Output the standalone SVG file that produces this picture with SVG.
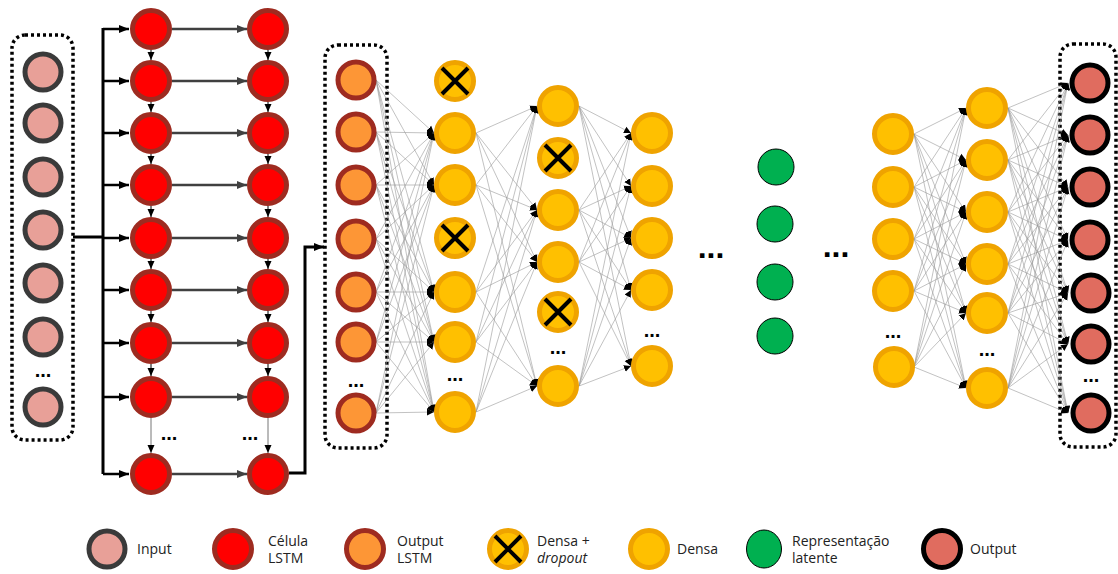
<svg xmlns="http://www.w3.org/2000/svg" width="1118" height="574" viewBox="0 0 1118 574">
<style>
.inp{fill:#E8A098;stroke:#3A3A3A;stroke-width:5}
.cell{fill:#FF0000;stroke:#9E2B20;stroke-width:5}
.olstm{fill:#FD9636;stroke:#9E2B20;stroke-width:5}
.den{fill:#FFC000;stroke:#EFA300;stroke-width:5}
.lat{fill:#00B050;stroke:#000;stroke-width:1}
.out{fill:#E06C5F;stroke:#000;stroke-width:5}
.x{stroke:#000;stroke-width:4;fill:none}
.box{fill:none;stroke:#000;stroke-width:3.5;stroke-dasharray:3 3}
.c path{stroke:#999;stroke-width:0.6;fill:none;marker-end:url(#as)}
.dots{font-family:"Liberation Sans",sans-serif;font-weight:bold;font-size:20px;text-anchor:middle;fill:#000}
.big{font-size:32px}
.lg{font-family:"Open Sans",sans-serif;font-size:14px;fill:#222}
</style>
<defs>
<marker id="ab" markerUnits="userSpaceOnUse" markerWidth="10" markerHeight="10" refX="10" refY="5" orient="auto"><path d="M0,1 L10,5 L0,9 z" fill="#000"/></marker>
<marker id="ag" markerUnits="userSpaceOnUse" markerWidth="10" markerHeight="10" refX="10" refY="5" orient="auto"><path d="M0,1 L10,5 L0,9 z" fill="#404040"/></marker>
<marker id="av" markerUnits="userSpaceOnUse" markerWidth="8" markerHeight="8" refX="8" refY="4" orient="auto"><path d="M0,0.5 L8,4 L0,7.5 z" fill="#000"/></marker>
<marker id="as" markerUnits="userSpaceOnUse" markerWidth="8" markerHeight="8" refX="7" refY="4" orient="auto"><path d="M0,0.5 L7,4 L0,7.5 z" fill="#000"/></marker>
</defs>

<!-- boxes -->
<rect class="box" x="12" y="35" width="61" height="405" rx="13"/>
<rect class="box" x="325" y="45" width="62" height="403" rx="13"/>
<rect class="box" x="1060" y="44" width="56" height="403" rx="13"/>

<!-- connectors -->
<g id="connectors">
<g fill="none">
<path d="M73 237H103" stroke="#000" stroke-width="3"/>
<path d="M103 28V474" stroke="#000" stroke-width="3"/>
<g stroke="#000" stroke-width="2.5" marker-end="url(#ab)">
<path d="M103 29H129"/><path d="M103 81H129"/><path d="M103 133H129"/><path d="M103 185H129"/><path d="M103 238H129"/><path d="M103 290H129"/><path d="M103 343H129"/><path d="M103 397H129"/><path d="M103 474H129"/>
</g>
<g stroke="#404040" stroke-width="2.5" marker-end="url(#ag)">
<path d="M172 29H247"/><path d="M172 81H247"/><path d="M172 133H247"/><path d="M172 185H247"/><path d="M172 238H247"/><path d="M172 290H247"/><path d="M172 343H247"/><path d="M172 397H247"/><path d="M172 474H247"/>
</g>
<g stroke="#000" stroke-width="1" marker-end="url(#av)">
<path d="M151 50V60"/><path d="M151 102V112"/><path d="M151 154V164"/><path d="M151 206V217"/><path d="M151 259V269"/><path d="M151 311V322"/><path d="M151 364V376"/>
<path d="M268 50V60"/><path d="M268 102V112"/><path d="M268 154V164"/><path d="M268 206V217"/><path d="M268 259V269"/><path d="M268 311V322"/><path d="M268 364V376"/>
</g>
<g stroke="#777" stroke-width="1" marker-end="url(#av)">
<path d="M151 418V453"/><path d="M268 418V453"/>
</g>
<path d="M289 473H305V247H324" stroke="#000" stroke-width="3" marker-end="url(#ab)"/>
</g>
<g class="c">
<path d="M376 80L434 133"/><path d="M376 80L434 185"/><path d="M376 80L434 292"/><path d="M376 80L434 342"/><path d="M376 80L434 412"/>
<path d="M376 132L434 133"/><path d="M376 132L434 185"/><path d="M376 132L434 292"/><path d="M376 132L434 342"/><path d="M376 132L434 412"/>
<path d="M376 185L434 133"/><path d="M376 185L434 185"/><path d="M376 185L434 292"/><path d="M376 185L434 342"/><path d="M376 185L434 412"/>
<path d="M376 239L434 133"/><path d="M376 239L434 185"/><path d="M376 239L434 292"/><path d="M376 239L434 342"/><path d="M376 239L434 412"/>
<path d="M376 292L434 133"/><path d="M376 292L434 185"/><path d="M376 292L434 292"/><path d="M376 292L434 342"/><path d="M376 292L434 412"/>
<path d="M376 342L434 133"/><path d="M376 342L434 185"/><path d="M376 342L434 292"/><path d="M376 342L434 342"/><path d="M376 342L434 412"/>
<path d="M376 413L434 133"/><path d="M376 413L434 185"/><path d="M376 413L434 292"/><path d="M376 413L434 342"/><path d="M376 413L434 412"/>

<path d="M476 133L537 106"/><path d="M476 133L537 210"/><path d="M476 133L537 262"/><path d="M476 133L537 386"/>
<path d="M476 185L537 106"/><path d="M476 185L537 210"/><path d="M476 185L537 262"/><path d="M476 185L537 386"/>
<path d="M476 292L537 106"/><path d="M476 292L537 210"/><path d="M476 292L537 262"/><path d="M476 292L537 386"/>
<path d="M476 342L537 106"/><path d="M476 342L537 210"/><path d="M476 342L537 262"/><path d="M476 342L537 386"/>
<path d="M476 412L537 106"/><path d="M476 412L537 210"/><path d="M476 412L537 262"/><path d="M476 412L537 386"/>

<path d="M579 106L631 133"/><path d="M579 106L631 186"/><path d="M579 106L631 238"/><path d="M579 106L631 290"/><path d="M579 106L631 366"/>
<path d="M579 210L631 133"/><path d="M579 210L631 186"/><path d="M579 210L631 238"/><path d="M579 210L631 290"/><path d="M579 210L631 366"/>
<path d="M579 262L631 133"/><path d="M579 262L631 186"/><path d="M579 262L631 238"/><path d="M579 262L631 290"/><path d="M579 262L631 366"/>
<path d="M579 386L631 133"/><path d="M579 386L631 186"/><path d="M579 386L631 238"/><path d="M579 386L631 290"/><path d="M579 386L631 366"/>

<path d="M914 134L966 108"/><path d="M914 134L966 160"/><path d="M914 134L966 212"/><path d="M914 134L966 264"/><path d="M914 134L966 313"/><path d="M914 134L966 388"/>
<path d="M914 187L966 108"/><path d="M914 187L966 160"/><path d="M914 187L966 212"/><path d="M914 187L966 264"/><path d="M914 187L966 313"/><path d="M914 187L966 388"/>
<path d="M914 239L966 108"/><path d="M914 239L966 160"/><path d="M914 239L966 212"/><path d="M914 239L966 264"/><path d="M914 239L966 313"/><path d="M914 239L966 388"/>
<path d="M914 291L966 108"/><path d="M914 291L966 160"/><path d="M914 291L966 212"/><path d="M914 291L966 264"/><path d="M914 291L966 313"/><path d="M914 291L966 388"/>
<path d="M914 367L966 108"/><path d="M914 367L966 160"/><path d="M914 367L966 212"/><path d="M914 367L966 264"/><path d="M914 367L966 313"/><path d="M914 367L966 388"/>

<path d="M1008 108L1068 83"/><path d="M1008 108L1068 135"/><path d="M1008 108L1068 187"/><path d="M1008 108L1068 240"/><path d="M1008 108L1068 293"/><path d="M1008 108L1068 344"/><path d="M1008 108L1068 413"/>
<path d="M1008 160L1068 83"/><path d="M1008 160L1068 135"/><path d="M1008 160L1068 187"/><path d="M1008 160L1068 240"/><path d="M1008 160L1068 293"/><path d="M1008 160L1068 344"/><path d="M1008 160L1068 413"/>
<path d="M1008 212L1068 83"/><path d="M1008 212L1068 135"/><path d="M1008 212L1068 187"/><path d="M1008 212L1068 240"/><path d="M1008 212L1068 293"/><path d="M1008 212L1068 344"/><path d="M1008 212L1068 413"/>
<path d="M1008 264L1068 83"/><path d="M1008 264L1068 135"/><path d="M1008 264L1068 187"/><path d="M1008 264L1068 240"/><path d="M1008 264L1068 293"/><path d="M1008 264L1068 344"/><path d="M1008 264L1068 413"/>
<path d="M1008 313L1068 83"/><path d="M1008 313L1068 135"/><path d="M1008 313L1068 187"/><path d="M1008 313L1068 240"/><path d="M1008 313L1068 293"/><path d="M1008 313L1068 344"/><path d="M1008 313L1068 413"/>
<path d="M1008 388L1068 83"/><path d="M1008 388L1068 135"/><path d="M1008 388L1068 187"/><path d="M1008 388L1068 240"/><path d="M1008 388L1068 293"/><path d="M1008 388L1068 344"/><path d="M1008 388L1068 413"/>
</g>
</g>

<!-- input column -->
<g id="input">
<circle class="inp" cx="43" cy="72" r="18"/><circle class="inp" cx="43" cy="123" r="18"/><circle class="inp" cx="43" cy="177" r="18"/><circle class="inp" cx="43" cy="230" r="18"/><circle class="inp" cx="43" cy="283" r="18"/><circle class="inp" cx="43" cy="337" r="18"/><circle class="inp" cx="43" cy="407" r="18"/>
<text class="dots" x="43" y="377">...</text>
</g>

<!-- LSTM cells -->
<g id="lstm1">
<circle class="cell" cx="151" cy="29" r="18.5"/><circle class="cell" cx="151" cy="81" r="18.5"/><circle class="cell" cx="151" cy="133" r="18.5"/><circle class="cell" cx="151" cy="185" r="18.5"/><circle class="cell" cx="151" cy="238" r="18.5"/><circle class="cell" cx="151" cy="290" r="18.5"/><circle class="cell" cx="151" cy="343" r="18.5"/><circle class="cell" cx="151" cy="397" r="18.5"/><circle class="cell" cx="151" cy="474" r="18.5"/>
<text class="dots" x="169" y="440">...</text>
</g>
<g id="lstm2">
<circle class="cell" cx="268" cy="29" r="18.5"/><circle class="cell" cx="268" cy="81" r="18.5"/><circle class="cell" cx="268" cy="133" r="18.5"/><circle class="cell" cx="268" cy="185" r="18.5"/><circle class="cell" cx="268" cy="238" r="18.5"/><circle class="cell" cx="268" cy="290" r="18.5"/><circle class="cell" cx="268" cy="343" r="18.5"/><circle class="cell" cx="268" cy="397" r="18.5"/><circle class="cell" cx="268" cy="474" r="18.5"/>
<text class="dots" x="250" y="440">...</text>
</g>

<!-- output LSTM -->
<g id="lstm-output">
<circle class="olstm" cx="356" cy="80" r="18"/><circle class="olstm" cx="356" cy="132" r="18"/><circle class="olstm" cx="356" cy="185" r="18"/><circle class="olstm" cx="356" cy="239" r="18"/><circle class="olstm" cx="356" cy="292" r="18"/><circle class="olstm" cx="356" cy="342" r="18"/><circle class="olstm" cx="356" cy="413" r="18"/>
<text class="dots" x="356" y="387">...</text>
</g>

<!-- dense 1 -->
<g id="dense1">
<circle class="den" cx="455" cy="81" r="18.5"/><path class="x" d="M442 68L468 94M468 68L442 94"/>
<circle class="den" cx="455" cy="133" r="18.5"/><circle class="den" cx="455" cy="185" r="18.5"/>
<circle class="den" cx="455" cy="238" r="18.5"/><path class="x" d="M442 225L468 251M468 225L442 251"/>
<circle class="den" cx="455" cy="292" r="18.5"/><circle class="den" cx="455" cy="342" r="18.5"/><circle class="den" cx="455" cy="412" r="18.5"/>
<text class="dots" x="455" y="381">...</text>
</g>

<!-- dense 2 -->
<g id="dense2">
<circle class="den" cx="558" cy="106" r="18.5"/>
<circle class="den" cx="558" cy="158" r="18.5"/><path class="x" d="M545 145L571 171M571 145L545 171"/>
<circle class="den" cx="558" cy="210" r="18.5"/><circle class="den" cx="558" cy="262" r="18.5"/>
<circle class="den" cx="558" cy="312" r="18.5"/><path class="x" d="M545 299L571 325M571 299L545 325"/>
<circle class="den" cx="558" cy="386" r="18.5"/>
<text class="dots" x="558" y="354">...</text>
</g>

<!-- dense 3 -->
<g id="dense3">
<circle class="den" cx="652" cy="133" r="18.5"/><circle class="den" cx="652" cy="186" r="18.5"/><circle class="den" cx="652" cy="238" r="18.5"/><circle class="den" cx="652" cy="290" r="18.5"/><circle class="den" cx="652" cy="366" r="18.5"/>
<text class="dots" x="652" y="337">...</text>
</g>

<text class="dots big" x="711" y="258">...</text>

<!-- latent -->
<g id="latent">
<circle class="lat" cx="776" cy="167" r="18"/><circle class="lat" cx="775" cy="224" r="18"/><circle class="lat" cx="775" cy="282" r="18"/><circle class="lat" cx="775" cy="336" r="18"/>
</g>

<text class="dots big" x="836" y="257">...</text>

<!-- dense 4 -->
<g id="dense4">
<circle class="den" cx="893" cy="134" r="18.5"/><circle class="den" cx="893" cy="187" r="18.5"/><circle class="den" cx="893" cy="239" r="18.5"/><circle class="den" cx="893" cy="291" r="18.5"/><circle class="den" cx="894" cy="367" r="18.5"/>
<text class="dots" x="893" y="338">...</text>
</g>

<!-- dense 5 -->
<g id="dense5">
<circle class="den" cx="987" cy="108" r="18.5"/><circle class="den" cx="987" cy="160" r="18.5"/><circle class="den" cx="987" cy="212" r="18.5"/><circle class="den" cx="987" cy="264" r="18.5"/><circle class="den" cx="987" cy="313" r="18.5"/><circle class="den" cx="987" cy="388" r="18.5"/>
<text class="dots" x="987" y="356">...</text>
</g>

<!-- output -->
<g id="output">
<circle class="out" cx="1090" cy="83" r="18"/><circle class="out" cx="1090" cy="135" r="18"/><circle class="out" cx="1090" cy="187" r="18"/><circle class="out" cx="1090" cy="240" r="18"/><circle class="out" cx="1091" cy="293" r="18"/><circle class="out" cx="1091" cy="344" r="18"/><circle class="out" cx="1091" cy="413" r="18"/>
<text class="dots" x="1091" y="382">...</text>
</g>

<!-- legend -->
<g id="legend">
<g id="lg-input"><circle class="inp" cx="107" cy="549" r="18"/><text class="lg" x="137" y="554">Input</text></g>
<g id="lg-cell"><circle class="cell" cx="233" cy="549" r="18.5"/><text class="lg" x="268" y="546">Célula</text><text class="lg" x="268" y="563">LSTM</text></g>
<g id="lg-olstm"><circle class="olstm" cx="365" cy="549" r="18.5"/><text class="lg" x="397" y="546">Output</text><text class="lg" x="397" y="563">LSTM</text></g>
<g id="lg-drop"><circle class="den" cx="508" cy="549" r="18.5"/><path class="x" d="M495 536L521 562M521 536L495 562"/><text class="lg" x="537" y="546">Densa +</text><text class="lg" x="537" y="563" font-style="italic">dropout</text></g>
<g id="lg-dense"><circle class="den" cx="649" cy="549" r="18.5"/><text class="lg" x="677" y="554">Densa</text></g>
<g id="lg-latent"><ellipse class="lat" cx="764" cy="549" rx="17.5" ry="19"/><text class="lg" x="792" y="546">Representação</text><text class="lg" x="792" y="563">latente</text></g>
<g id="lg-output"><circle class="out" cx="942" cy="549" r="18.5"/><text class="lg" x="970" y="554">Output</text></g>
</g>
</svg>
